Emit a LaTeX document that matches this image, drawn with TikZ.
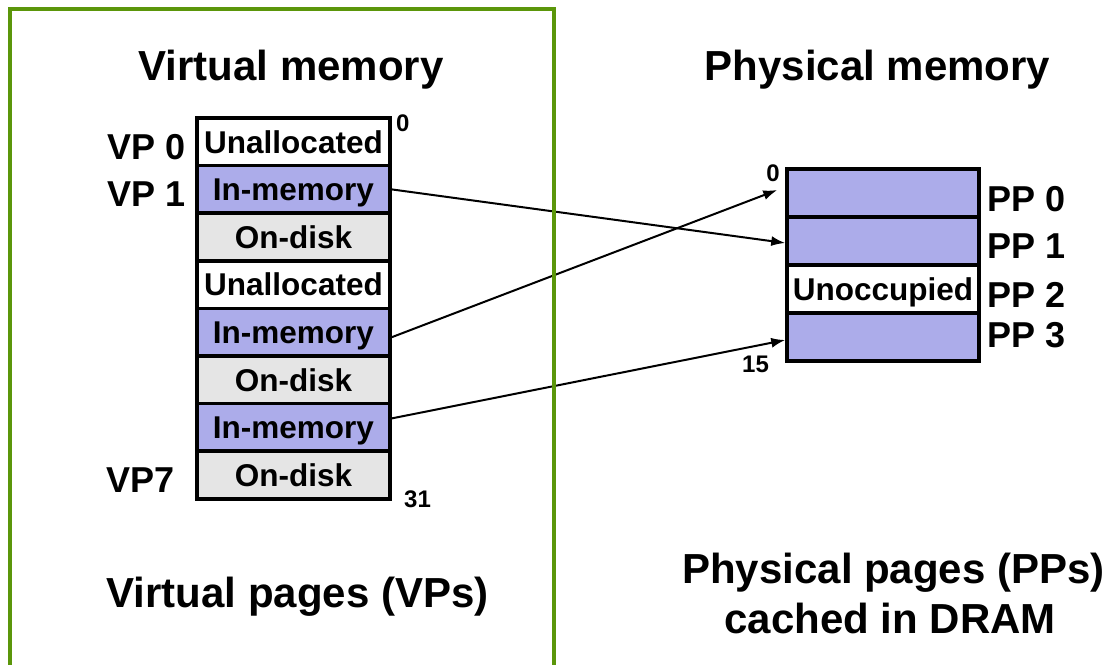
\documentclass[tikz,border=0pt]{standalone}
\usepackage{fontspec}
\setmainfont{Liberation Sans}
\usetikzlibrary{arrows.meta}
\definecolor{framegreen}{RGB}{91,150,10}
\definecolor{inmem}{RGB}{172,172,234}
\definecolor{ondisk}{RGB}{229,229,229}
\tikzset{
  vcell/.style={draw=black, line width=3.5pt, minimum width=193pt, minimum height=47.6pt, inner sep=0pt,
    text height=22.6pt, text depth=0pt,
    font=\fontsize{31.5pt}{36pt}\selectfont\bfseries},
  pcell/.style={vcell, minimum width=192pt, minimum height=48pt},
  unalloc/.style={fill=white},
  inm/.style={fill=inmem},
  disk/.style={fill=ondisk},
  title/.style={inner sep=0pt, anchor=base, font=\fontsize{42pt}{50pt}\selectfont\bfseries},
  pglabel/.style={inner sep=0pt, font=\fontsize{36pt}{42pt}\selectfont\bfseries},
  addr/.style={inner sep=0pt, font=\fontsize{24pt}{28pt}\selectfont\bfseries},
  maparrow/.style={draw=black, line width=2pt, -{Latex[length=14pt,width=10pt]}},
}
\begin{document}
\begin{tikzpicture}[x=1pt,y=-1pt]
\useasboundingbox (0,0) rectangle (1108,664);
% titles
\node[title] (tv) at (291,80) {Virtual memory};
\node[title] (tp) at (877.5,80) {Physical memory};
\node[title] (bv) at (297.5,607) {Virtual pages (VPs)};
\node[title] (bp1) at (893.5,583) {Physical pages (PPs)};
\node[title] (bp2) at (890,633) {cached in DRAM};
% virtual pages
\node[vcell,unalloc] (vm0) at (293.5,141.8) {Unallocated};
\node[vcell,inm]     (vm1) at (293.5,189.4) {In-memory};
\node[vcell,disk]    (vm2) at (293.5,237.0) {On-disk};
\node[vcell,unalloc] (vm3) at (293.5,284.6) {Unallocated};
\node[vcell,inm]     (vm4) at (293.5,332.2) {In-memory};
\node[vcell,disk]    (vm5) at (293.5,379.8) {On-disk};
\node[vcell,inm]     (vm6) at (293.5,427.4) {In-memory};
\node[vcell,disk]    (vm7) at (293.5,475.0) {On-disk};
% physical pages
\node[pcell,inm]     (pp0) at (883,193) {};
\node[pcell,inm]     (pp1) at (883,241) {};
\node[pcell,unalloc] (pp2) at (883,289) {Unoccupied};
\node[pcell,inm]     (pp3) at (883,337) {};
% page labels
\node[pglabel, anchor=base east] (lvp0) at (186,159) {VP 0};
\node[pglabel, anchor=base east] (lvp1) at (186,206) {VP 1};
\node[pglabel, anchor=base east] (lvp7) at (175,492) {VP7};
\node[pglabel, anchor=base west] (lpp0) at (987,211) {PP 0};
\node[pglabel, anchor=base west] (lpp1) at (987,258) {PP 1};
\node[pglabel, anchor=base west] (lpp2) at (987,307) {PP 2};
\node[pglabel, anchor=base west] (lpp3) at (987,347) {PP 3};
% addresses
\node[addr, anchor=base west] (a0) at (396,131) {0};
\node[addr, anchor=base west] (a31) at (404,507) {31};
\node[addr, anchor=base east] (p0) at (780,181) {0};
\node[addr, anchor=base west] (p15) at (742,372) {15};
% mappings
\draw[maparrow] (vm1.east) -- ([yshift=-2pt]pp1.west);
\draw[maparrow] ([yshift=-5pt]vm4.east) -- ([shift={(-8pt,3pt)}]pp0.west);
\draw[maparrow] ([yshift=9pt]vm6.east) -- ([yshift=-3pt]pp3.west);
% frame
\draw[framegreen, line width=4.5pt] (10,690) -- (10,9) -- (554,9) -- (554,690);
\end{tikzpicture}
\end{document}
